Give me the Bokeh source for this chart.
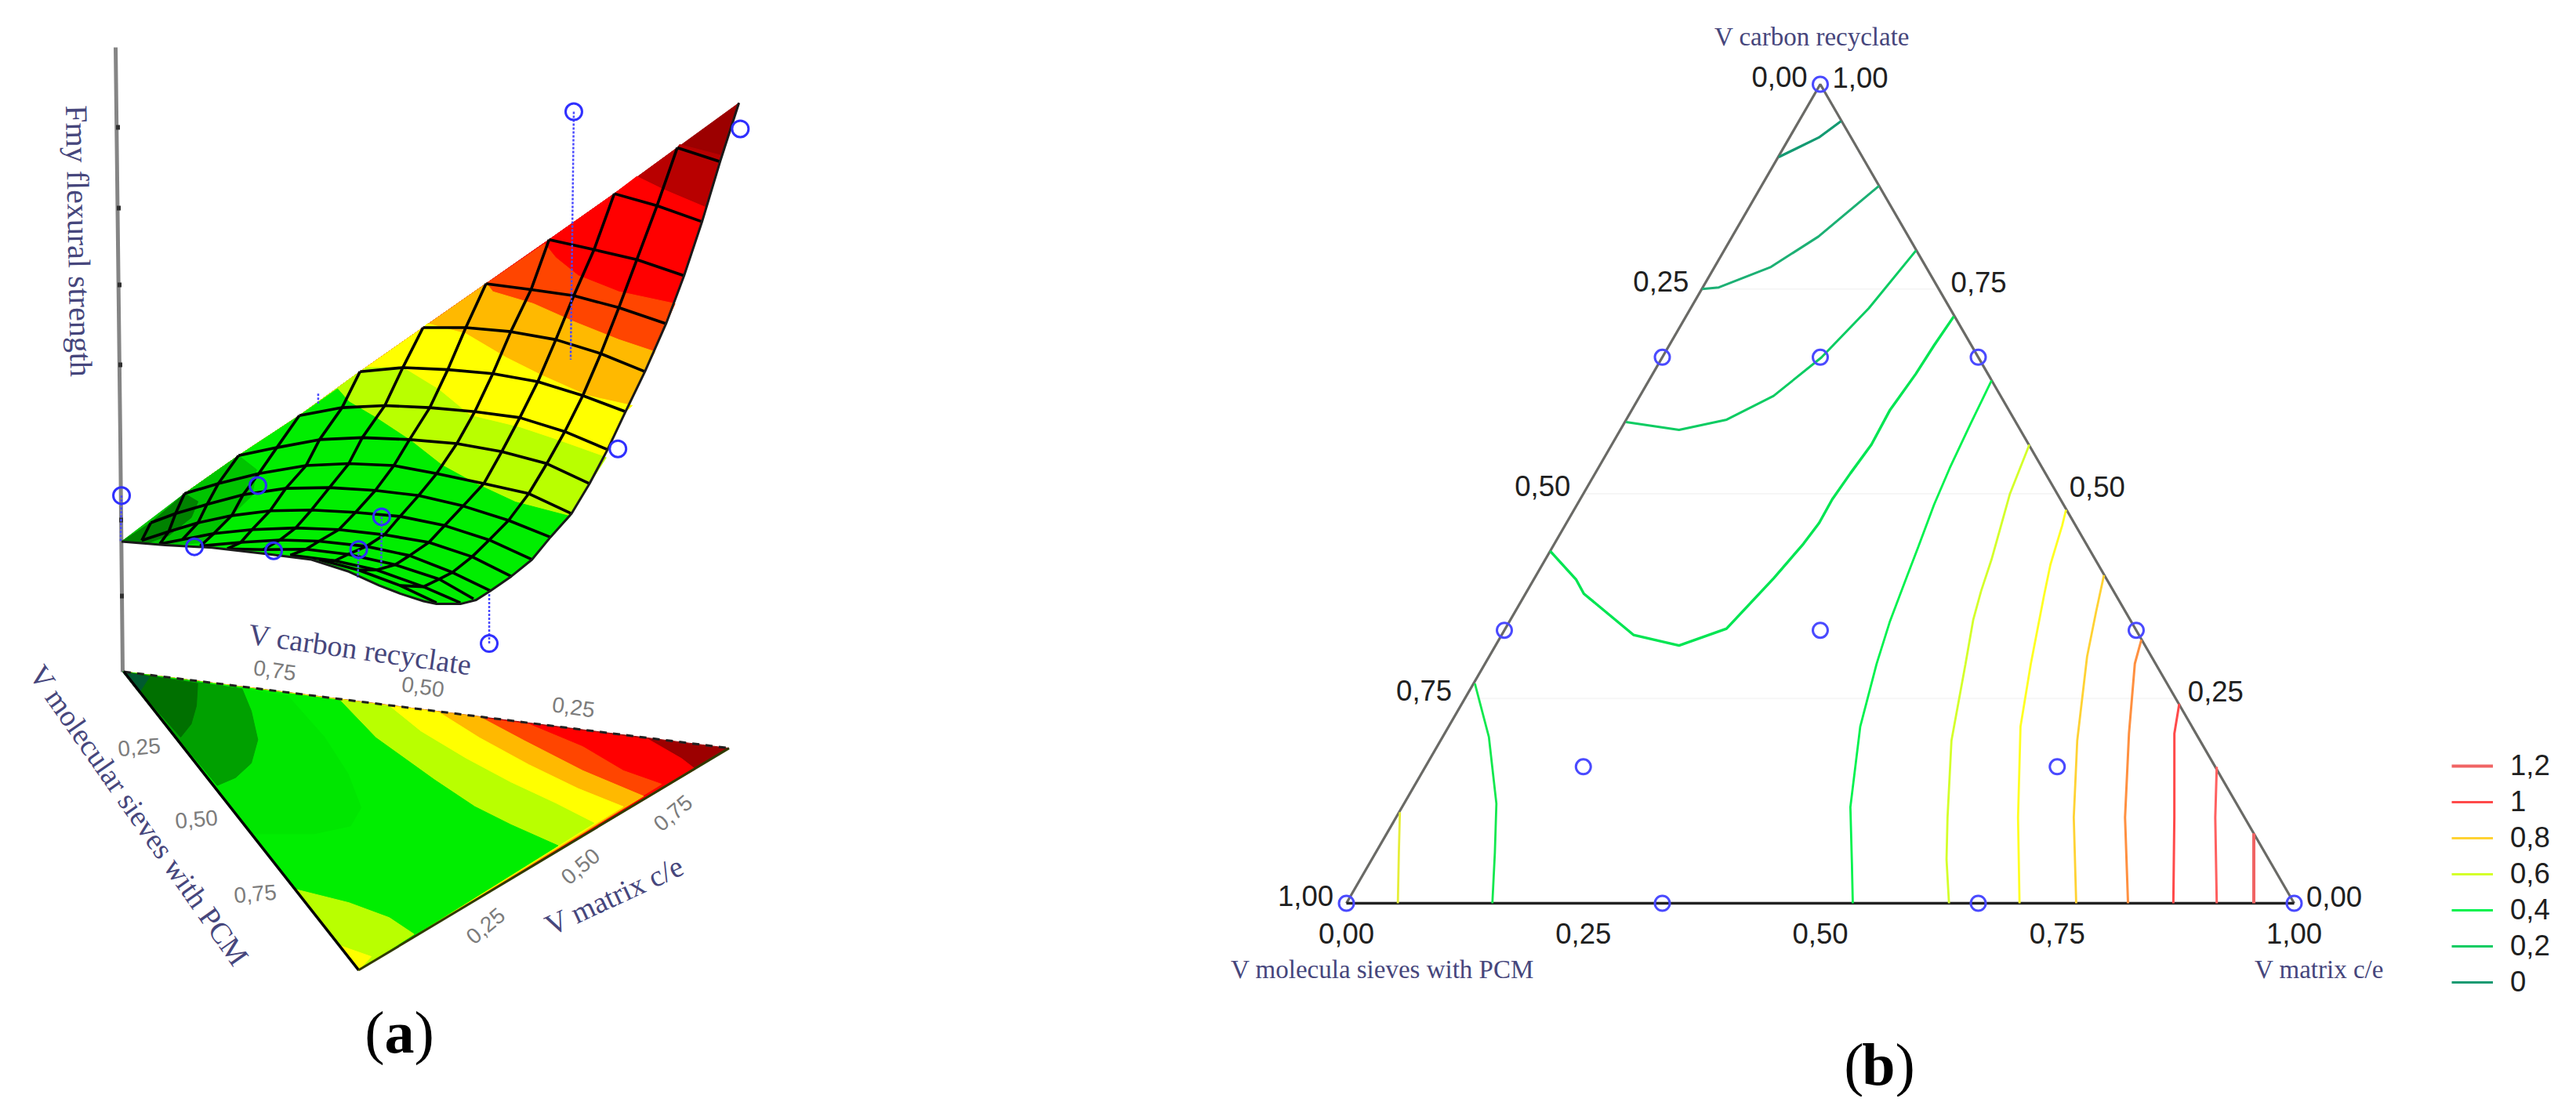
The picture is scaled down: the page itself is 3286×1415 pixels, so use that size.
from bokeh.plotting import figure
from bokeh.embed import file_html
from bokeh.resources import INLINE
from bokeh.models import Range1d, Legend, LegendItem
from bokeh.core.properties import value
import math

# ---------------- panel (b): ternary data, (matrix share, carbon share) ----------------
C_0A = [(.0005,.911),(.031,.935),(.0445,.955)]
C_0B = [(.0005,.750),(.017,.752),(.0595,.777),(.091,.814),(.124,.876)]
C_02A = [(.0013,.5875),(.062,.578),(.106,.5905),(.141,.6195),(.168,.6665),(.188,.7265),(.2025,.797)]
C_02B = [(0,.430),(.045,.395),(.0615,.378),(.139,.3277),(.1936,.3148),(.2334,.3353),(.2525,.397),
         (.2628,.4389),(.2666,.4644),(.266,.4931),(.2693,.525),(.2739,.5601),(.2724,.6016),(.2776,.6463),(.2795,.6813),(.2826,.7164)]
C_04A = [(.3616,.6383),(.3658,.5856),(.3709,.5314),(.3767,.4868),(.3857,.4357),(.3927,.3943),(.4016,.3432),
         (.4133,.2922),(.4343,.2157),(.473,.1175),(.5088,.0491),(.5343,0)]
C_04B = [(.0014,.2683),(.0489,.2029),(.0974,.1217),(.1257,.0619),(.154,0)]
C_06A = [(.4406,.5601),(.4502,.4995),(.4708,.4198),(.479,.3815),(.4882,.3464),(.5071,.2922),(.5391,.1986),(.5819,.1047),(.6065,.0534),(.6358,0)]
C_06B = [(.5191,.4804),(.5246,.4612),(.5361,.4134),(.5484,.3751),(.576,.2922),(.6034,.2157),(.6563,.1047),(.7102,0)]
C_06C = [(.0009,.1111),(.0244,.0619),(.0543,0)]
C_08A = [(.599,.4006),(.613,.356),(.6309,.3012),(.6718,.1986),(.7151,.1047),(.77,0)]
C_08B = [(.6779,.3217),(.6856,.2926),(.7221,.2072),(.7692,.1047),(.8247,0)]
C_10A = [(.757,.2435),(.77,.2072),(.8212,.1047),(.8725,0)]
C_10B = [(.835,.1666),(.8644,.1047),(.9183,0)]
C_12 = [(.9147,.0854),(.9574,0)]
DESIGN_M = [0, 0, 1, 0, 1/3, 0, 2/3, 1/3, 2/3, 1/6, 1/3, 1/6, 2/3]
DESIGN_C = [1, 0, 0, 2/3, 2/3, 1/3, 1/3, 0, 0, 2/3, 1/3, 1/6, 1/6]
TICKS = [0, .25, .5, .75, 1]
TICK_LABELS = ["0,00", "0,25", "0,50", "0,75", "1,00"]
LEVEL_LABELS = ["1,2", "1", "0,8", "0,6", "0,4", "0,2", "0"]

# ---------------- panel (a): projected surface (viewing-plane units) ----------------
TIP = (1467, 178)
ROW_01 = [(1425,325),(1330,290)]
ROW_02 = [(1385,475),(1285,435),(1190,405)]
ROW_03 = [(1345,610),(1240,570),(1145,545),(1045,520)]
ROW_04 = [(1305,730),(1200,690),(1100,660),(1005,645),(905,630)]
ROW_05 = [(1258,850),(1160,805),(1060,770),(960,750),(860,740),(765,740)]
ROW_06 = [(1215,950),(1120,910),(1020,875),(920,855),(820,845),(720,840),(625,850)]
ROW_07 = [(1175,1045),(1080,1000),(980,965),(880,950),(780,940),(680,935),(585,940),(490,960)]
ROW_08 = [(1135,1130),(1040,1080),(940,1050),(840,1030),(735,1020),(630,1015),(535,1020),(440,1040),(355,1060)]
ROW_09 = [(1095,1205),(1000,1155),(900,1130),(795,1105),(700,1085),(600,1080),(505,1085),(400,1105),(310,1130),(235,1155)]
ROW_10 = [(1048,1264),(955,1222),(854,1186),(755,1160),(659,1147),(557,1140),(460,1142),(365,1158),(285,1182),(215,1205),(160,1228)]
ROW_11 = [(1007,1320),(912,1271),(813,1235),(714,1212),(615,1202),(517,1196),(425,1198),(340,1210),(265,1228),(200,1250),(140,1272)]
ROW_12 = [(961,1362),(874,1313),(778,1277),(679,1258),(578,1245),(482,1241),(385,1245),(300,1255),(230,1270),(180,1281)]
ROW_13 = [(915,1398),(830,1352),(735,1310),(639,1287),(534,1274),(447,1271),(360,1277),(270,1286)]
ROW_14 = [(877,1418),(801,1369),(703,1333),(598,1307),(505,1294),(410,1295),(330,1293)]
ROW_15 = [(848,1428),(766,1388),(662,1346),(569,1323),(470,1309)]
ROW_16 = [(795,1428),(714,1385),(621,1346),(534,1320)]
ROWS = [ROW_01,ROW_02,ROW_03,ROW_04,ROW_05,ROW_06,ROW_07,ROW_08,ROW_09,ROW_10,ROW_11,ROW_12,ROW_13,ROW_14,ROW_15,ROW_16]
LOWER_EDGE = [(915,1398),(883,1421),(848,1431),(795,1431),(766,1424),(714,1405),(668,1385),(600,1350),(517,1320),(424,1307),(296,1290),(192,1284),(95,1275)]

BAND_COLORS = ["#b80000","#ff0000","#ff4500","#ffb900","#ffff00","#b9ff00","#00ee00"]
SURF_BOUNDS = [
 [(1335,282),(1430,310)],
 [(1240,362),(1300,395),(1395,440)],
 [(1035,530),(1060,565),(1110,610),(1200,650),(1325,680)],
 [(905,628),(920,650),(1010,680),(1100,725),(1200,770),(1280,800)],
 [(775,730),(860,755),(950,815),(1030,860),(1130,910),(1230,935)],
 [(640,840),(720,840),(800,895),(870,960),(980,990),(1060,1020),(1172,1065)],
 [(575,893),(600,925),(660,965),(737,1022),(807,1084),(882,1130),(970,1176),(1092,1212)],
]
SURF_DARK_1 = [(95,1275),(235,1155),(355,1060),(395,1095),(385,1160),(330,1220),(270,1278),(192,1284)]
SURF_DARK_2 = [(95,1275),(160,1228),(235,1155),(265,1175),(250,1215),(200,1260),(150,1280)]
DESIGN_A = [(1100,200),(1470,243),(1198,1043),(95,1160),(398,1135),(257,1288),(433,1298),(622,1295),(673,1213),(912,1530)]
DROPS_A = [((1100,200),(1093,820)),((95,1160),(93,1275)),((622,1295),(620,1365)),((673,1213),(672,1340)),((912,1530),(912,1405)),((532,905),(532,930))]

BASE_B, BASE_R, BASE_F = (100,200), (1445,455), (622,1195)
BASE_BOUNDS = [
 [(1265,425),(1340,490),(1370,525)],
 [(1000,375),(1120,450),(1210,530),(1295,575)],
 [(890,350),(990,430),(1120,530),(1255,615)],
 [(800,335),(890,420),(1000,510),(1110,590),(1210,650)],
 [(690,315),(760,400),(860,490),(960,570),(1060,640),(1145,705)],
 [(580,295),(660,420),(790,560),(880,650),(960,710),(1065,780)],
]
BASE_LIME = [(480,925),(600,970),(690,1020),(745,1075),(622,1195)]
BASE_YELLOW = [(578,1112),(650,1150),(622,1195)]
BASE_G1 = [(468,170),(1100,262),(1240,420),(1330,560),(1380,690),(1340,760),(1200,790),(958,790)]
BASE_G2 = [(468,170),(925,235),(960,320),(985,430),(960,520),(900,575),(830,605)]
BASE_G3 = [(468,170),(755,215),(750,300),(730,370),(690,420)]
BASE_G4 = [(468,170),(570,190),(531,250)]

def view(pts):
    return [(100 + x/1.742, 40 + y/1.96) for x, y in pts]
def base(pts):
    return [(100 + x/1.742, 780 + y/2.613) for x, y in pts]
def base9(pts):
    return [(x/3, 800 + y/3) for x, y in pts]

BL = (1717.0, 1152.0); W, H = 1209.0, 1045.0
def tern(m, c):
    return BL[0] + (m + c/2)*W, BL[1] - c*H

FAM = value("Liberation Sans"); SER = value("Liberation Serif")
NAVY = "#46467c"

p = figure(width=3270, height=1399, x_range=Range1d(0, 3270), y_range=Range1d(1399, 0),
           toolbar_location=None, output_backend="svg", min_border=0, outline_line_color=None,
           x_axis_location=None, y_axis_location=None)
p.grid.visible = False

def xs(pts): return [a for a, _ in pts]
def ys(pts): return [b for _, b in pts]
def poly(pts, col):
    p.patch(xs(pts), ys(pts), fill_color=col, line_color=col, line_width=1)

p.line([147, 153, 156], [60, 560, 857], line_color="#858585", line_width=5)
p.segment([150, 151, 152, 153, 154, 155], [159, 262, 360, 462, 660, 757],
          [150, 151, 152, 153, 154, 155], [165, 268, 366, 468, 666, 763], line_color="#303030", line_width=5)

right_edge = [r[0] for r in ROWS[:13]]
top_edge = [r[-1] for r in ROWS[:10]]
outline = [TIP] + right_edge + LOWER_EDGE[1:] + top_edge[::-1]
poly(view(outline), "#9c0000")
for bound, col in zip(SURF_BOUNDS, BAND_COLORS):
    pts = list(bound) + [q for q in right_edge if q[1] > bound[-1][1]] + LOWER_EDGE[1:] + \
          [q for q in top_edge[::-1] if q[1] > bound[0][1]]
    poly(view(pts), col)
poly(view(SURF_DARK_1), "#00c400")
poly(view(SURF_DARK_2), "#008200")

mesh = [view(r) for r in ROWS]
p.multi_line([xs(r) for r in mesh], [ys(r) for r in mesh], line_color="black", line_width=3.6)
for i in range(1, 12):
    vc = view([r[i] for r in ROWS if len(r) > i])
    p.line(xs(vc), ys(vc), line_color="black", line_width=3.6)
ve = view([TIP] + right_edge + LOWER_EDGE[1:])
p.line(xs(ve), ys(ve), line_color="#1a1a1a", line_width=3)

poly(base([BASE_R, BASE_F, BASE_B]), "#9c0000")
for bound, col in zip(BASE_BOUNDS, BAND_COLORS[1:]):
    poly(base(list(bound) + [BASE_F, BASE_B]), col)
poly(base(BASE_LIME), "#b9ff00")
poly(base(BASE_YELLOW), "#ffff00")
poly(base9(BASE_G1), "#00e600")
poly(base9(BASE_G2), "#00a000")
poly(base9(BASE_G3), "#007000")
poly(base9(BASE_G4), "#005a30")
b3 = base([BASE_B, BASE_R]); p.line(xs(b3), ys(b3), line_color="#202020", line_width=3, line_dash="9 8")
b1 = base([BASE_B, BASE_F]); p.line(xs(b1), ys(b1), line_color="black", line_width=3.5)
b2 = base([BASE_F, BASE_R]); p.line(xs(b2), ys(b2), line_color="#303a00", line_width=3)

for a, b in DROPS_A:
    d = view([a, b])
    p.line(xs(d), ys(d), line_color="#4a4aff", line_width=2.5, line_dash="3 2")
d = view(DESIGN_A)
p.scatter(xs(d), ys(d), marker="circle", size=21, fill_color=None, line_color="#3030ff", line_width=3)

def label(x, y, t, size, angle=0, font=SER, color=NAVY, **kw):
    kw.setdefault("text_align", "center"); kw.setdefault("text_baseline", "middle")
    p.text([x], [y], text=[t], text_font=font, text_font_size=size, text_color=color,
           angle=math.radians(angle), **kw)
label(100, 307, "Fmy flexural strength", "40px", -89)
label(459, 828, "V carbon recyclate", "38px", -8)
label(177, 1040, "V molecular sieves with PCM", "38px", -55)
label(783, 1142, "V matrix c/e", "38px", 25)
GRAY = "#7c7c7c"
for x, y, t, a in [(350,855,"0,75",-8),(539,876,"0,50",-8),(731,902,"0,25",-8),
                   (177,953,"0,25",5),(250,1045,"0,50",5),(325,1140,"0,75",5),
                   (619,1181,"0,25",40),(740,1105,"0,50",40),(858,1037,"0,75",40)]:
    label(x, y, t, "28px", a, font=FAM, color=GRAY)

for c in [.25, .5, .75]:
    a0, b0 = tern(0, c); a1, b1_ = tern(1-c, c)
    p.line([a0, a1], [b0, b1_], line_color="#f6f6f6", line_width=2)
c_verts = [tern(0,0), tern(0,1), tern(1,0)]
p.line(xs(c_verts), ys(c_verts), line_color="#6a6a66", line_width=3.2)
c_bot = [tern(0,0), tern(1,0)]
p.line(xs(c_bot), ys(c_bot), line_color="#222222", line_width=3.6)

CONTOURS = [
    ("0", "#149a72", 3.2, C_0A), ("0", "#1cb074", 3, C_0B),
    ("0,2", "#0ccc62", 3, C_02A), ("0,2", "#00e552", 3.4, C_02B),
    ("0,4", "#00f24e", 2.8, C_04A), ("0,4", "#12e84e", 2.8, C_04B),
    ("0,6", "#d4ff2a", 2.8, C_06A), ("0,6", "#ffff22", 2.8, C_06B), ("0,6", "#e6ee38", 2.8, C_06C),
    ("0,8", "#ffd233", 2.8, C_08A), ("0,8", "#ff9040", 3, C_08B),
    ("1", "#ff4a4a", 3, C_10A), ("1", "#ff6060", 3, C_10B),
    ("1,2", "#f06464", 4, C_12),
]
rend = {}
for lev, col, lw, pts in CONTOURS:
    t = [tern(m, c) for m, c in pts]
    r = p.line(xs(t), ys(t), line_color=col, line_width=lw)
    rend.setdefault(lev, r)

dx = [tern(m, c)[0] for m, c in zip(DESIGN_M, DESIGN_C)]
dy = [tern(m, c)[1] for m, c in zip(DESIGN_M, DESIGN_C)]
p.scatter(dx, dy, marker="circle", size=19, fill_color=None, line_color="#4a4aff", line_width=3)

blk = "#202020"
for t, lab in zip(TICKS, TICK_LABELS):
    for (x, y), ox, oy in [(tern(0, 1-t), -52, -10), (tern(1-t, t), 51, -9), (tern(t, 0), 0, 38)]:
        p.text([x], [y], text=[lab], x_offset=ox, y_offset=oy, text_align="center", text_baseline="middle",
               text_font=FAM, text_font_size="36.5px", text_color=blk)

label(2311, 46, "V carbon recyclate", "33px")
label(1763, 1236, "V molecula sieves with PCM", "33px")
label(2958, 1236, "V matrix c/e", "33px")

def caption(xc, ym, letter):
    half = 19
    label(xc-half, ym, "(", "76px", font=SER, color="black", text_align="right")
    label(xc, ym, letter, "76px", font=SER, color="black", text_font_style="bold")
    wid = half if letter == "a" else 21
    label(xc+wid, ym, ")", "76px", font=SER, color="black", text_align="left")
caption(509, 1316, "a")
caption(2396, 1357, "b")

leg = Legend(items=[LegendItem(label=l, renderers=[rend[l]]) for l in LEVEL_LABELS],
             location=(3127, 125), orientation="vertical", padding=0, margin=0, spacing=4,
             glyph_width=53, glyph_height=40, label_height=40, label_standoff=22,
             label_text_font="Liberation Sans", label_text_font_size="36.5px", label_text_color=blk,
             border_line_color=None, background_fill_color=None, background_fill_alpha=0)
p.add_layout(leg)

open("out.html", "w").write(file_html(p, INLINE))
